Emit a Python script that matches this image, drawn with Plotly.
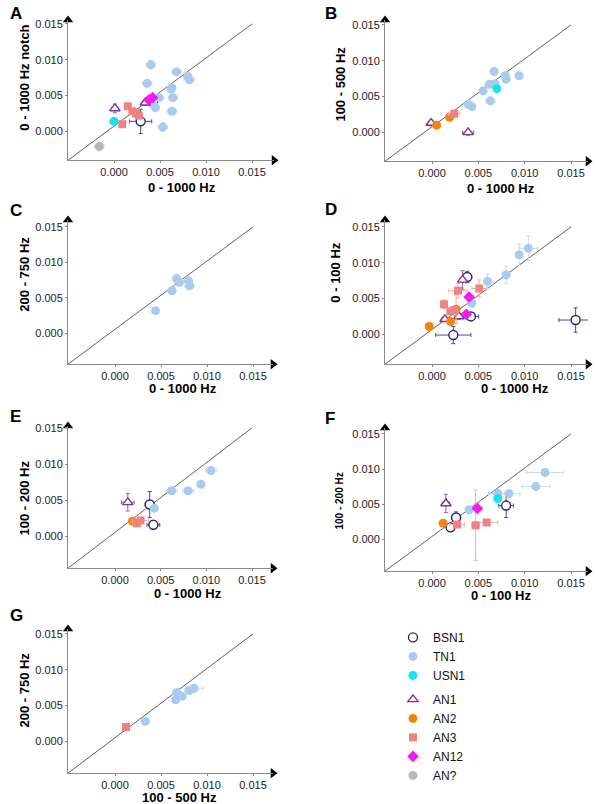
import plotly.graph_objects as go

W, H = 598, 804

# ---------------- data ----------------
TICK_VALS = [0.0, 0.005, 0.010, 0.015]
TICK_TEXT = ["0.000", "0.005", "0.010", "0.015"]
GROUPS = ["BSN1", "TN1", "USN1", "AN1", "AN2", "AN3", "AN12", "AN?"]
DIAG_END = 0.015

# Panel A: x = 0-1000 Hz, y = 0-1000 Hz notch
A_grp = ["TN1"] * 13 + ["BSN1", "BSN1", "USN1", "AN1", "AN1", "AN12", "AN12",
                        "AN3", "AN3", "AN3", "AN3", "AN3", "AN?"]
A_x = [0.0040, 0.0068, 0.0080, 0.0082, 0.0036, 0.0063, 0.0062, 0.0064, 0.0049, 0.0041, 0.0045, 0.0063, 0.0053,
       0.0029, 0.0043, 0.0000, 0.0001, 0.0034, 0.0038, 0.0042,
       0.0015, 0.0020, 0.0024, 0.0027, 0.0009, -0.0016]
A_y = [0.0093, 0.0083, 0.0077, 0.0072, 0.0067, 0.0061, 0.0059, 0.0047, 0.0047, 0.0039, 0.0033, 0.0028, 0.0006,
       0.0014, 0.0044, 0.0014, 0.0032, 0.0040, 0.0044, 0.0047,
       0.0035, 0.0028, 0.0025, 0.0022, 0.0010, -0.0021]
A_ex = [0.0005, 0.0005, 0.0004, 0.0006, 0.0005, 0.0004, 0.0003, 0.0005, 0.0005, 0.0005, 0.0003, 0.0005, 0.0005,
        0.0012, 0.0006, 0.0004, 0.0003, 0.0003, 0.0002, 0.0002,
        0.0002, 0.0003, 0.0003, 0.0003, 0.0002, 0.0005]
A_ey = [0.0006, 0.0004, 0.0004, 0.0004, 0.0003, 0.0004, 0.0003, 0.0003, 0.0003, 0.0003, 0.0003, 0.0003, 0.0006,
        0.0017, 0.0003, 0.0002, 0.0006, 0.0004, 0.0002, 0.0002,
        0.0002, 0.0003, 0.0002, 0.0002, 0.0002, 0.0006]

# Panel B: x = 0-1000 Hz, y = 100-500 Hz
B_grp = ["TN1"] * 10 + ["USN1", "AN3", "AN2", "AN2", "AN1", "AN1"]
B_x = [0.0067, 0.0079, 0.0094, 0.0080, 0.0062, 0.0068, 0.0055, 0.0063, 0.0039, 0.0043,
       0.0070, 0.0024, 0.0019, 0.0005, -0.0001, 0.0039]
B_y = [0.0085, 0.0079, 0.0079, 0.0074, 0.0067, 0.0068, 0.0058, 0.0044, 0.0039, 0.0036,
       0.0061, 0.0026, 0.0021, 0.0010, 0.0013, 0.0000]
B_ex = [0.0003, 0.0004, 0.0004, 0.0004, 0.0005, 0.0004, 0.0003, 0.0005, 0.0003, 0.0004,
        0.0003, 0.0006, 0.0003, 0.0003, 0.0003, 0.0006]
B_ey = [0.0005, 0.0004, 0.0003, 0.0004, 0.0004, 0.0003, 0.0003, 0.0004, 0.0003, 0.0003,
        0.0003, 0.0003, 0.0002, 0.0002, 0.0004, 0.0004]

# Panel C: x = 0-1000 Hz, y = 200-750 Hz
C_grp = ["TN1"] * 6
C_x = [0.0067, 0.0070, 0.0080, 0.0081, 0.0062, 0.0044]
C_y = [0.0077, 0.0072, 0.0074, 0.0067, 0.0060, 0.0032]
C_ex = [0.0004, 0.0004, 0.0004, 0.0005, 0.0004, 0.0003]
C_ey = [0.0006, 0.0004, 0.0004, 0.0004, 0.0004, 0.0002]

# Panel D: x = 0-1000 Hz, y = 0-100 Hz
D_grp = ["TN1"] * 5 + ["BSN1"] * 4 + ["AN1"] * 3 + ["AN2"] * 3 + ["AN3"] * 5 + ["AN12"] * 2
D_x = [0.0104, 0.0094, 0.0080, 0.0060, 0.0043,
       0.0038, 0.0042, 0.0023, 0.0155,
       0.0033, 0.0029, 0.0014,
       0.0026, 0.0020, -0.0003,
       0.0051, 0.0028, 0.0013, 0.0020, 0.0024,
       0.0040, 0.0037]
D_y = [0.0120, 0.0111, 0.0083, 0.0074, 0.0043,
       0.0080, 0.0025, -0.0001, 0.0020,
       0.0076, 0.0025, 0.0021,
       0.0035, 0.0018, 0.0011,
       0.0064, 0.0061, 0.0042, 0.0032, 0.0034,
       0.0052, 0.0028]
D_ex = [0.0010, 0.0004, 0.0004, 0.0004, 0.0004,
        0.0005, 0.0008, 0.0019, 0.0018,
        0.0003, 0.0004, 0.0004,
        0.0003, 0.0003, 0.0002,
        0.0008, 0.0010, 0.0002, 0.0004, 0.0003,
        0.0003, 0.0003]
D_ey = [0.0017, 0.0015, 0.0012, 0.0010, 0.0004,
        0.0008, 0.0003, 0.0012, 0.0017,
        0.0013, 0.0004, 0.0003,
        0.0020, 0.0004, 0.0003,
        0.0012, 0.0010, 0.0006, 0.0003, 0.0003,
        0.0004, 0.0004]

# Panel E: x = 0-1000 Hz, y = 100-200 Hz
E_grp = ["TN1"] * 5 + ["BSN1", "BSN1", "AN1", "AN2", "AN3", "AN3"]
E_x = [0.0105, 0.0094, 0.0080, 0.0062, 0.0043, 0.0038, 0.0042, 0.0014, 0.0019, 0.0024, 0.0028]
E_y = [0.0091, 0.0072, 0.0063, 0.0063, 0.0039, 0.0044, 0.0016, 0.0047, 0.0021, 0.0018, 0.0022]
E_ex = [0.0006, 0.0004, 0.0006, 0.0006, 0.0004, 0.0005, 0.0007, 0.0007, 0.0003, 0.0004, 0.0009]
E_ey = [0.0004, 0.0003, 0.0004, 0.0004, 0.0003, 0.0018, 0.0002, 0.0012, 0.0002, 0.0003, 0.0003]

# Panel F: x = 0-100 Hz, y = 100-200 Hz
F_grp = ["TN1"] * 5 + ["USN1", "BSN1", "BSN1", "BSN1", "AN1", "AN12", "AN2", "AN3", "AN3", "AN3"]
F_x = [0.0122, 0.0112, 0.0083, 0.0071, 0.0040, 0.0071, 0.0080, 0.0026, 0.0020, 0.0015, 0.0049, 0.0012,
       0.0027, 0.0047, 0.0059]
F_y = [0.0095, 0.0075, 0.0065, 0.0065, 0.0042, 0.0058, 0.0048, 0.0031, 0.0017, 0.0051, 0.0044, 0.0023,
       0.0021, 0.0020, 0.0024]
F_ex = [0.0020, 0.0015, 0.0012, 0.0010, 0.0004, 0.0004, 0.0008, 0.0005, 0.0004, 0.0004, 0.0003, 0.0003,
        0.0008, 0.0004, 0.0012]
F_ey = [0.0005, 0.0004, 0.0004, 0.0004, 0.0003, 0.0004, 0.0017, 0.0008, 0.0003, 0.0013, 0.0004, 0.0002,
        0.0003, 0.0050, 0.0004]

# Panel G: x = 100-500 Hz, y = 200-750 Hz
G_grp = ["TN1"] * 6 + ["AN3"]
G_x = [0.0086, 0.0081, 0.0067, 0.0073, 0.0066, 0.0033, 0.0012]
G_y = [0.0074, 0.0071, 0.0068, 0.0063, 0.0058, 0.0028, 0.0020]
G_ex = [0.0010, 0.0005, 0.0004, 0.0004, 0.0004, 0.0004, 0.0002]
G_ey = [0.0005, 0.0004, 0.0003, 0.0004, 0.0005, 0.0002, 0.0002]

PANELS = [
    ("A", A_grp, A_x, A_y, A_ex, A_ey, "0 - 1000 Hz", "0 - 1000 Hz notch"),
    ("B", B_grp, B_x, B_y, B_ex, B_ey, "0 - 1000 Hz", "100 - 500 Hz"),
    ("C", C_grp, C_x, C_y, C_ex, C_ey, "0 - 1000 Hz", "200 - 750 Hz"),
    ("D", D_grp, D_x, D_y, D_ex, D_ey, "0 - 1000 Hz", "0 - 100 Hz"),
    ("E", E_grp, E_x, E_y, E_ex, E_ey, "0 - 1000 Hz", "100 - 200 Hz"),
    ("F", F_grp, F_x, F_y, F_ex, F_ey, "0 - 100 Hz", "100 - 200 Hz"),
    ("G", G_grp, G_x, G_y, G_ex, G_ey, "100 - 500 Hz", "200 - 750 Hz"),
]

# ---------------- layout / style ----------------
FONT = "Arial, Liberation Sans, sans-serif"

# pixel geometry: axis lines, arrow ends, and pixel positions of 0.000 / 0.015 ticks
GEOM = {
    "A": dict(left=68, bottom=157, right=274, top=16, x0=114, x15=252, y0=128, y15=20),
    "B": dict(left=385, bottom=158, right=588, top=16, x0=432, x15=571, y0=129, y15=21),
    "C": dict(left=68, bottom=362, right=273, top=217, x0=115, x15=253, y0=331, y15=224),
    "D": dict(left=385, bottom=362, right=588, top=217, x0=432, x15=571, y0=332, y15=224),
    "E": dict(left=68, bottom=567, right=273, top=424, x0=115, x15=252, y0=535, y15=426),
    "F": dict(left=385, bottom=570, right=588, top=426, x0=432, x15=571, y0=538, y15=432),
    "G": dict(left=68, bottom=773, right=273, top=628, x0=115, x15=253, y0=741, y15=633),
}
# (x-title cx, cy, y-title cx, cy, y-title size, letter x, letter y)
TITLES = {
    "A": (182, 184, 25, 74, 13, 8, 10),
    "B": (501, 185, 341, 81, 13, 323, 10),
    "C": (183, 386, 25, 272, 13, 8, 208),
    "D": (515, 386, 336, 270, 13, 323, 207),
    "E": (188, 592, 25, 497, 13, 8, 415),
    "F": (501, 594, 340, 500, 10, 323, 417),
    "G": (179, 797, 25, 690, 13, 8, 615),
}

STYLE = {
    "BSN1": dict(symbol="circle", size=9, color="white", line=dict(color="#26267a", width=1.4), err="#4a4a96"),
    "TN1": dict(symbol="circle", size=9, color="#a8cbee", line=dict(width=0), err="#c7dcf3"),
    "USN1": dict(symbol="circle", size=9, color="#12e6ee", line=dict(width=0), err="#8ff0f4"),
    "AN1": dict(symbol="triangle-up", size=9, color="white", line=dict(color="#7d3590", width=1.4), err="#9a62aa"),
    "AN2": dict(symbol="circle", size=9, color="#f7830f", line=dict(width=0), err="#f8b170"),
    "AN3": dict(symbol="square", size=8, color="#f08282", line=dict(width=0), err="#f5b0b0"),
    "AN12": dict(symbol="diamond", size=9, color="#f01df0", line=dict(width=0), err="#f58af5"),
    "AN?": dict(symbol="circle", size=9, color="#b9b9b9", line=dict(width=0), err="#d2d2d2"),
}

fig = go.Figure()
annotations = []

for i, (name, grp, xs, ys, exs, eys, xtitle, ytitle) in enumerate(PANELS):
    g = GEOM[name]
    sx = (g["x15"] - g["x0"]) / 0.015
    sy = (g["y0"] - g["y15"]) / 0.015
    xr = [(g["left"] - g["x0"]) / sx, (g["right"] - g["x0"]) / sx]
    yr = [(g["y0"] - g["bottom"]) / sy, (g["y0"] - g["top"]) / sy]
    sfx = "" if i == 0 else str(i + 1)
    xref, yref = "x" + sfx, "y" + sfx
    axis_common = dict(
        tickvals=TICK_VALS, ticktext=TICK_TEXT, showgrid=False, zeroline=False,
        showline=True, linecolor="#8a8a8a", linewidth=1, ticks="outside",
        ticklen=2, tickcolor="#8a8a8a", tickfont=dict(family=FONT, size=11, color="#222222"),
        fixedrange=True,
    )
    fig.update_layout({
        "xaxis" + sfx: dict(domain=[g["left"] / W, g["right"] / W], range=xr, anchor=yref, **axis_common),
        "yaxis" + sfx: dict(domain=[1 - g["bottom"] / H, 1 - g["top"] / H], range=yr, anchor=xref, **axis_common),
    })
    # identity line
    fig.add_trace(go.Scatter(x=[xr[0], DIAG_END], y=[yr[0], DIAG_END], mode="lines",
                             line=dict(color="#3a3a3a", width=0.8), xaxis=xref, yaxis=yref,
                             showlegend=False, hoverinfo="skip"))
    for gname in GROUPS:
        idx = [k for k, v in enumerate(grp) if v == gname]
        if not idx:
            continue
        st = STYLE[gname]
        fig.add_trace(go.Scatter(
            x=[xs[k] for k in idx], y=[ys[k] for k in idx], mode="markers",
            marker=dict(symbol=st["symbol"], size=st["size"], color=st["color"], line=st["line"]),
            error_x=dict(type="data", array=[exs[k] for k in idx], color=st["err"], thickness=1, width=2),
            error_y=dict(type="data", array=[eys[k] for k in idx], color=st["err"], thickness=1, width=2),
            xaxis=xref, yaxis=yref, showlegend=False, name=gname, cliponaxis=False,
        ))
    # axis arrow heads
    fig.add_trace(go.Scatter(x=[xr[1], xr[0]], y=[yr[0], yr[1]], mode="markers",
                             marker=dict(symbol=["triangle-right", "triangle-up"], size=9, color="black"),
                             xaxis=xref, yaxis=yref, showlegend=False, cliponaxis=False, hoverinfo="skip"))
    xtx, xty, ytx, yty, ysz, lx, ly = TITLES[name]
    annotations.append(dict(x=xtx / W, y=1 - xty / H, xref="paper", yref="paper", text="<b>%s</b>" % xtitle,
                            showarrow=False, font=dict(family=FONT, size=13, color="black"),
                            xanchor="center", yanchor="middle"))
    annotations.append(dict(x=ytx / W, y=1 - yty / H, xref="paper", yref="paper", text="<b>%s</b>" % ytitle,
                            showarrow=False, textangle=-90, font=dict(family=FONT, size=ysz, color="black"),
                            xanchor="center", yanchor="middle"))
    annotations.append(dict(x=lx / W, y=1 - ly / H, xref="paper", yref="paper", text="<b>%s</b>" % name,
                            showarrow=False, font=dict(family=FONT, size=17, color="black"),
                            xanchor="left", yanchor="middle"))

# legend entries
for gname in GROUPS:
    st = STYLE[gname]
    fig.add_trace(go.Scatter(
        x=[None], y=[None], mode="markers", name=gname,
        legendgroup="sn" if gname in ("BSN1", "TN1", "USN1") else "an",
        marker=dict(symbol=st["symbol"], size=st["size"], color=st["color"], line=st["line"]),
        showlegend=True,
    ))

fig.update_layout(
    width=W, height=H, margin=dict(l=0, r=0, t=0, b=0),
    paper_bgcolor="white", plot_bgcolor="white",
    annotations=annotations,
    legend=dict(x=393 / W, y=1 - 622 / H, xanchor="left", yanchor="top",
                font=dict(family=FONT, size=12, color="#111111"),
                traceorder="grouped", tracegroupgap=5, itemwidth=30,
                bgcolor="rgba(0,0,0,0)"),
    font=dict(family=FONT),
)

fig.write_html("out.html", config={"displayModeBar": False},
               post_script="document.body.style.margin='0px';")
